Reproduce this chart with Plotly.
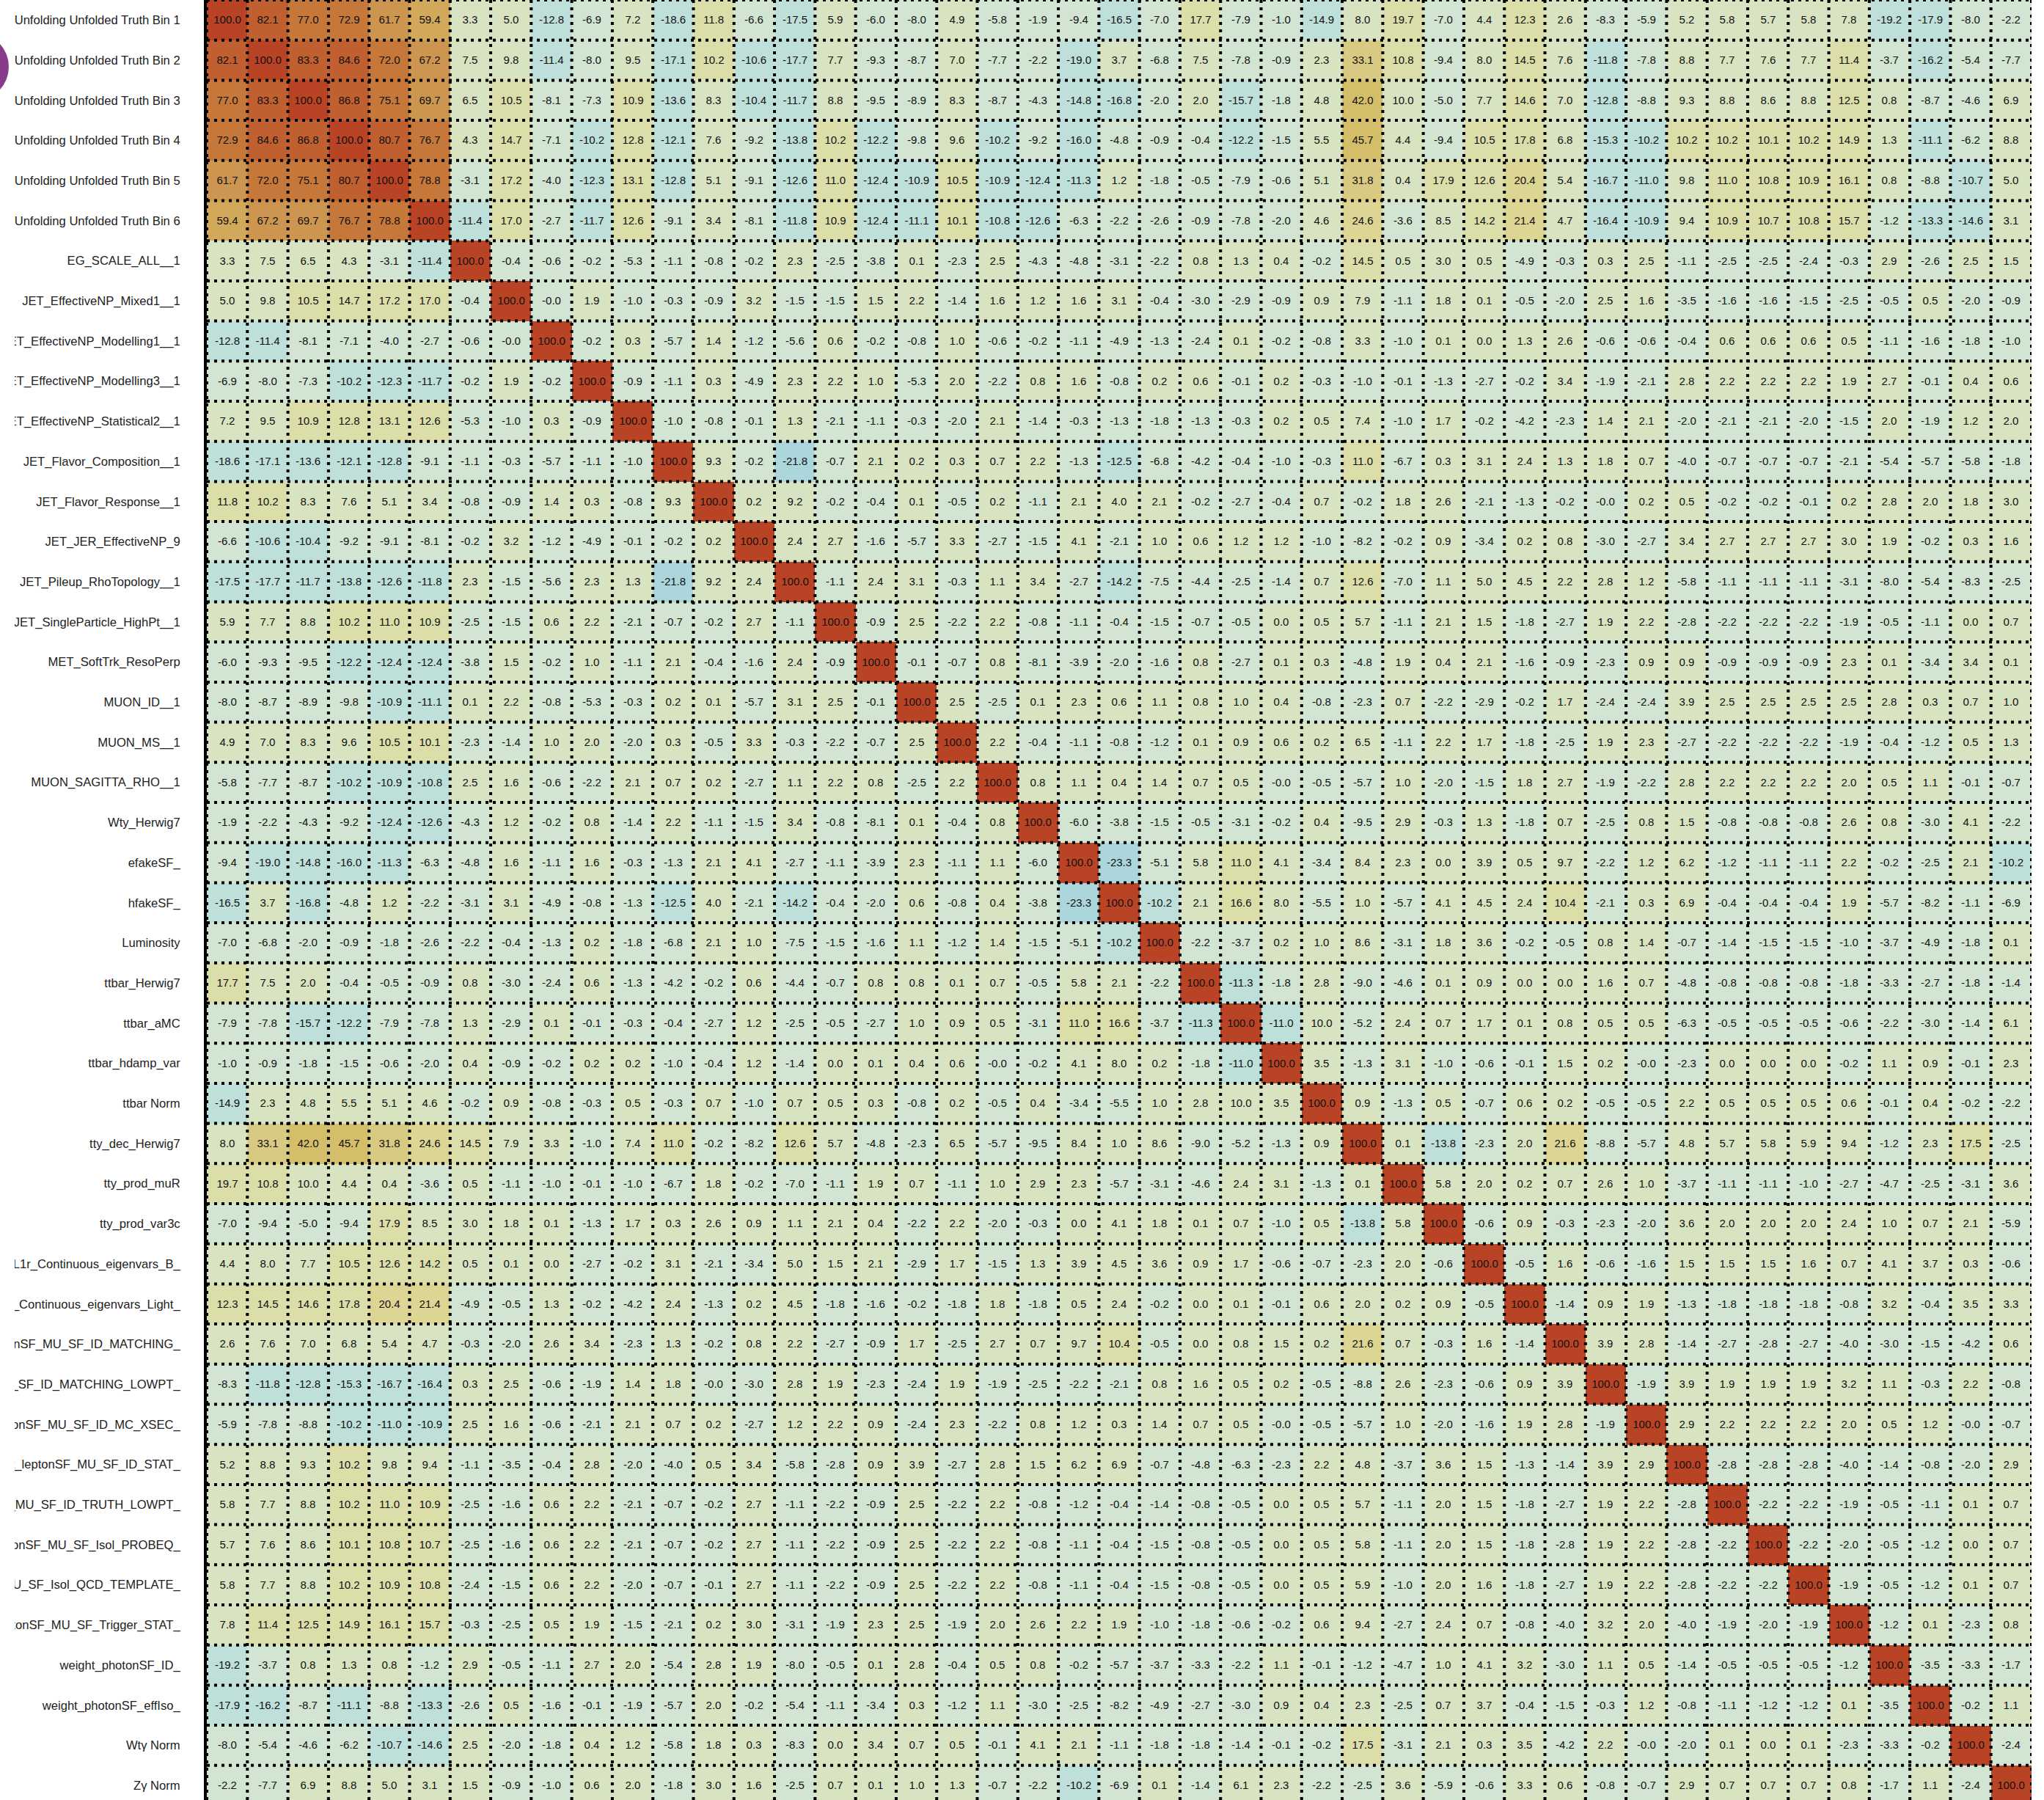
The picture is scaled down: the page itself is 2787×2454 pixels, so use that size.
import math
import plotly.graph_objects as go

labels = [
    "Unfolding Unfolded Truth Bin 1",
    "Unfolding Unfolded Truth Bin 2",
    "Unfolding Unfolded Truth Bin 3",
    "Unfolding Unfolded Truth Bin 4",
    "Unfolding Unfolded Truth Bin 5",
    "Unfolding Unfolded Truth Bin 6",
    "EG_SCALE_ALL__1",
    "JET_EffectiveNP_Mixed1__1",
    "JET_EffectiveNP_Modelling1__1",
    "JET_EffectiveNP_Modelling3__1",
    "JET_EffectiveNP_Statistical2__1",
    "JET_Flavor_Composition__1",
    "JET_Flavor_Response__1",
    "JET_JER_EffectiveNP_9",
    "JET_Pileup_RhoTopology__1",
    "JET_SingleParticle_HighPt__1",
    "MET_SoftTrk_ResoPerp",
    "MUON_ID__1",
    "MUON_MS__1",
    "MUON_SAGITTA_RHO__1",
    "Wty_Herwig7",
    "efakeSF_",
    "hfakeSF_",
    "Luminosity",
    "ttbar_Herwig7",
    "ttbar_aMC",
    "ttbar_hdamp_var",
    "ttbar Norm",
    "tty_dec_Herwig7",
    "tty_prod_muR",
    "tty_prod_var3c",
    "weight_bTagSF_DL1r_Continuous_eigenvars_B_",
    "weight_bTagSF_DL1r_Continuous_eigenvars_Light_",
    "weight_leptonSF_MU_SF_ID_MATCHING_",
    "weight_leptonSF_MU_SF_ID_MATCHING_LOWPT_",
    "weight_leptonSF_MU_SF_ID_MC_XSEC_",
    "weight_leptonSF_MU_SF_ID_STAT_",
    "weight_leptonSF_MU_SF_ID_TRUTH_LOWPT_",
    "weight_leptonSF_MU_SF_Isol_PROBEQ_",
    "weight_leptonSF_MU_SF_Isol_QCD_TEMPLATE_",
    "weight_leptonSF_MU_SF_Trigger_STAT_",
    "weight_photonSF_ID_",
    "weight_photonSF_effIso_",
    "Wtγ Norm",
    "Zγ Norm",
]

# Lower triangle of the (symmetric) correlation matrix, in %, diagonal = 100
r01 = []
r02 = [82.1]
r03 = [77.0, 83.3]
r04 = [72.9, 84.6, 86.8]
r05 = [61.7, 72.0, 75.1, 80.7]
r06 = [59.4, 67.2, 69.7, 76.7, 78.8]
r07 = [3.3, 7.5, 6.5, 4.3, -3.1, -11.4]
r08 = [5.0, 9.8, 10.5, 14.7, 17.2, 17.0, -0.4]
r09 = [-12.8, -11.4, -8.1, -7.1, -4.0, -2.7, -0.6, -0.0]
r10 = [-6.9, -8.0, -7.3, -10.2, -12.3, -11.7, -0.2, 1.9, -0.2]
r11 = [7.2, 9.5, 10.9, 12.8, 13.1, 12.6, -5.3, -1.0, 0.3, -0.9]
r12 = [-18.6, -17.1, -13.6, -12.1, -12.8, -9.1, -1.1, -0.3, -5.7, -1.1, -1.0]
r13 = [11.8, 10.2, 8.3, 7.6, 5.1, 3.4, -0.8, -0.9, 1.4, 0.3, -0.8, 9.3]
r14 = [-6.6, -10.6, -10.4, -9.2, -9.1, -8.1, -0.2, 3.2, -1.2, -4.9, -0.1, -0.2, 0.2]
r15 = [-17.5, -17.7, -11.7, -13.8, -12.6, -11.8, 2.3, -1.5, -5.6, 2.3, 1.3, -21.8, 9.2, 2.4]
r16 = [5.9, 7.7, 8.8, 10.2, 11.0, 10.9, -2.5, -1.5, 0.6, 2.2, -2.1, -0.7, -0.2, 2.7, -1.1]
r17 = [-6.0, -9.3, -9.5, -12.2, -12.4, -12.4, -3.8, 1.5, -0.2, 1.0, -1.1, 2.1, -0.4, -1.6, 2.4,
       -0.9]
r18 = [-8.0, -8.7, -8.9, -9.8, -10.9, -11.1, 0.1, 2.2, -0.8, -5.3, -0.3, 0.2, 0.1, -5.7, 3.1,
       2.5, -0.1]
r19 = [4.9, 7.0, 8.3, 9.6, 10.5, 10.1, -2.3, -1.4, 1.0, 2.0, -2.0, 0.3, -0.5, 3.3, -0.3,
       -2.2, -0.7, 2.5]
r20 = [-5.8, -7.7, -8.7, -10.2, -10.9, -10.8, 2.5, 1.6, -0.6, -2.2, 2.1, 0.7, 0.2, -2.7, 1.1,
       2.2, 0.8, -2.5, 2.2]
r21 = [-1.9, -2.2, -4.3, -9.2, -12.4, -12.6, -4.3, 1.2, -0.2, 0.8, -1.4, 2.2, -1.1, -1.5, 3.4,
       -0.8, -8.1, 0.1, -0.4, 0.8]
r22 = [-9.4, -19.0, -14.8, -16.0, -11.3, -6.3, -4.8, 1.6, -1.1, 1.6, -0.3, -1.3, 2.1, 4.1, -2.7,
       -1.1, -3.9, 2.3, -1.1, 1.1, -6.0]
r23 = [-16.5, 3.7, -16.8, -4.8, 1.2, -2.2, -3.1, 3.1, -4.9, -0.8, -1.3, -12.5, 4.0, -2.1, -14.2,
       -0.4, -2.0, 0.6, -0.8, 0.4, -3.8, -23.3]
r24 = [-7.0, -6.8, -2.0, -0.9, -1.8, -2.6, -2.2, -0.4, -1.3, 0.2, -1.8, -6.8, 2.1, 1.0, -7.5,
       -1.5, -1.6, 1.1, -1.2, 1.4, -1.5, -5.1, -10.2]
r25 = [17.7, 7.5, 2.0, -0.4, -0.5, -0.9, 0.8, -3.0, -2.4, 0.6, -1.3, -4.2, -0.2, 0.6, -4.4,
       -0.7, 0.8, 0.8, 0.1, 0.7, -0.5, 5.8, 2.1, -2.2]
r26 = [-7.9, -7.8, -15.7, -12.2, -7.9, -7.8, 1.3, -2.9, 0.1, -0.1, -0.3, -0.4, -2.7, 1.2, -2.5,
       -0.5, -2.7, 1.0, 0.9, 0.5, -3.1, 11.0, 16.6, -3.7, -11.3]
r27 = [-1.0, -0.9, -1.8, -1.5, -0.6, -2.0, 0.4, -0.9, -0.2, 0.2, 0.2, -1.0, -0.4, 1.2, -1.4,
       0.0, 0.1, 0.4, 0.6, -0.0, -0.2, 4.1, 8.0, 0.2, -1.8, -11.0]
r28 = [-14.9, 2.3, 4.8, 5.5, 5.1, 4.6, -0.2, 0.9, -0.8, -0.3, 0.5, -0.3, 0.7, -1.0, 0.7,
       0.5, 0.3, -0.8, 0.2, -0.5, 0.4, -3.4, -5.5, 1.0, 2.8, 10.0, 3.5]
r29 = [8.0, 33.1, 42.0, 45.7, 31.8, 24.6, 14.5, 7.9, 3.3, -1.0, 7.4, 11.0, -0.2, -8.2, 12.6,
       5.7, -4.8, -2.3, 6.5, -5.7, -9.5, 8.4, 1.0, 8.6, -9.0, -5.2, -1.3, 0.9]
r30 = [19.7, 10.8, 10.0, 4.4, 0.4, -3.6, 0.5, -1.1, -1.0, -0.1, -1.0, -6.7, 1.8, -0.2, -7.0,
       -1.1, 1.9, 0.7, -1.1, 1.0, 2.9, 2.3, -5.7, -3.1, -4.6, 2.4, 3.1, -1.3, 0.1]
r31 = [-7.0, -9.4, -5.0, -9.4, 17.9, 8.5, 3.0, 1.8, 0.1, -1.3, 1.7, 0.3, 2.6, 0.9, 1.1,
       2.1, 0.4, -2.2, 2.2, -2.0, -0.3, 0.0, 4.1, 1.8, 0.1, 0.7, -1.0, 0.5, -13.8, 5.8]
r32 = [4.4, 8.0, 7.7, 10.5, 12.6, 14.2, 0.5, 0.1, 0.0, -2.7, -0.2, 3.1, -2.1, -3.4, 5.0,
       1.5, 2.1, -2.9, 1.7, -1.5, 1.3, 3.9, 4.5, 3.6, 0.9, 1.7, -0.6, -0.7, -2.3, 2.0,
       -0.6]
r33 = [12.3, 14.5, 14.6, 17.8, 20.4, 21.4, -4.9, -0.5, 1.3, -0.2, -4.2, 2.4, -1.3, 0.2, 4.5,
       -1.8, -1.6, -0.2, -1.8, 1.8, -1.8, 0.5, 2.4, -0.2, 0.0, 0.1, -0.1, 0.6, 2.0, 0.2,
       0.9, -0.5]
r34 = [2.6, 7.6, 7.0, 6.8, 5.4, 4.7, -0.3, -2.0, 2.6, 3.4, -2.3, 1.3, -0.2, 0.8, 2.2,
       -2.7, -0.9, 1.7, -2.5, 2.7, 0.7, 9.7, 10.4, -0.5, 0.0, 0.8, 1.5, 0.2, 21.6, 0.7,
       -0.3, 1.6, -1.4]
r35 = [-8.3, -11.8, -12.8, -15.3, -16.7, -16.4, 0.3, 2.5, -0.6, -1.9, 1.4, 1.8, -0.0, -3.0, 2.8,
       1.9, -2.3, -2.4, 1.9, -1.9, -2.5, -2.2, -2.1, 0.8, 1.6, 0.5, 0.2, -0.5, -8.8, 2.6,
       -2.3, -0.6, 0.9, 3.9]
r36 = [-5.9, -7.8, -8.8, -10.2, -11.0, -10.9, 2.5, 1.6, -0.6, -2.1, 2.1, 0.7, 0.2, -2.7, 1.2,
       2.2, 0.9, -2.4, 2.3, -2.2, 0.8, 1.2, 0.3, 1.4, 0.7, 0.5, -0.0, -0.5, -5.7, 1.0,
       -2.0, -1.6, 1.9, 2.8, -1.9]
r37 = [5.2, 8.8, 9.3, 10.2, 9.8, 9.4, -1.1, -3.5, -0.4, 2.8, -2.0, -4.0, 0.5, 3.4, -5.8,
       -2.8, 0.9, 3.9, -2.7, 2.8, 1.5, 6.2, 6.9, -0.7, -4.8, -6.3, -2.3, 2.2, 4.8, -3.7,
       3.6, 1.5, -1.3, -1.4, 3.9, 2.9]
r38 = [5.8, 7.7, 8.8, 10.2, 11.0, 10.9, -2.5, -1.6, 0.6, 2.2, -2.1, -0.7, -0.2, 2.7, -1.1,
       -2.2, -0.9, 2.5, -2.2, 2.2, -0.8, -1.2, -0.4, -1.4, -0.8, -0.5, 0.0, 0.5, 5.7, -1.1,
       2.0, 1.5, -1.8, -2.7, 1.9, 2.2, -2.8]
r39 = [5.7, 7.6, 8.6, 10.1, 10.8, 10.7, -2.5, -1.6, 0.6, 2.2, -2.1, -0.7, -0.2, 2.7, -1.1,
       -2.2, -0.9, 2.5, -2.2, 2.2, -0.8, -1.1, -0.4, -1.5, -0.8, -0.5, 0.0, 0.5, 5.8, -1.1,
       2.0, 1.5, -1.8, -2.8, 1.9, 2.2, -2.8, -2.2]
r40 = [5.8, 7.7, 8.8, 10.2, 10.9, 10.8, -2.4, -1.5, 0.6, 2.2, -2.0, -0.7, -0.1, 2.7, -1.1,
       -2.2, -0.9, 2.5, -2.2, 2.2, -0.8, -1.1, -0.4, -1.5, -0.8, -0.5, 0.0, 0.5, 5.9, -1.0,
       2.0, 1.6, -1.8, -2.7, 1.9, 2.2, -2.8, -2.2, -2.2]
r41 = [7.8, 11.4, 12.5, 14.9, 16.1, 15.7, -0.3, -2.5, 0.5, 1.9, -1.5, -2.1, 0.2, 3.0, -3.1,
       -1.9, 2.3, 2.5, -1.9, 2.0, 2.6, 2.2, 1.9, -1.0, -1.8, -0.6, -0.2, 0.6, 9.4, -2.7,
       2.4, 0.7, -0.8, -4.0, 3.2, 2.0, -4.0, -1.9, -2.0, -1.9]
r42 = [-19.2, -3.7, 0.8, 1.3, 0.8, -1.2, 2.9, -0.5, -1.1, 2.7, 2.0, -5.4, 2.8, 1.9, -8.0,
       -0.5, 0.1, 2.8, -0.4, 0.5, 0.8, -0.2, -5.7, -3.7, -3.3, -2.2, 1.1, -0.1, -1.2, -4.7,
       1.0, 4.1, 3.2, -3.0, 1.1, 0.5, -1.4, -0.5, -0.5, -0.5, -1.2]
r43 = [-17.9, -16.2, -8.7, -11.1, -8.8, -13.3, -2.6, 0.5, -1.6, -0.1, -1.9, -5.7, 2.0, -0.2, -5.4,
       -1.1, -3.4, 0.3, -1.2, 1.1, -3.0, -2.5, -8.2, -4.9, -2.7, -3.0, 0.9, 0.4, 2.3, -2.5,
       0.7, 3.7, -0.4, -1.5, -0.3, 1.2, -0.8, -1.1, -1.2, -1.2, 0.1, -3.5]
r44 = [-8.0, -5.4, -4.6, -6.2, -10.7, -14.6, 2.5, -2.0, -1.8, 0.4, 1.2, -5.8, 1.8, 0.3, -8.3,
       0.0, 3.4, 0.7, 0.5, -0.1, 4.1, 2.1, -1.1, -1.8, -1.8, -1.4, -0.1, -0.2, 17.5, -3.1,
       2.1, 0.3, 3.5, -4.2, 2.2, -0.0, -2.0, 0.1, 0.0, 0.1, -2.3, -3.3, -0.2]
r45 = [-2.2, -7.7, 6.9, 8.8, 5.0, 3.1, 1.5, -0.9, -1.0, 0.6, 2.0, -1.8, 3.0, 1.6, -2.5,
       0.7, 0.1, 1.0, 1.3, -0.7, -2.2, -10.2, -6.9, 0.1, -1.4, 6.1, 2.3, -2.2, -2.5, 3.6,
       -5.9, -0.6, 3.3, 0.6, -0.8, -0.7, 2.9, 0.7, 0.7, 0.7, 0.8, -1.7, 1.1, -2.4]

diag_value = 100.0

lower_rows = [r01, r02, r03, r04, r05, r06, r07, r08, r09, r10, r11, r12, r13, r14, r15,
              r16, r17, r18, r19, r20, r21, r22, r23, r24, r25, r26, r27, r28, r29, r30,
              r31, r32, r33, r34, r35, r36, r37, r38, r39, r40, r41, r42, r43, r44, r45]

# 20 discrete colour bins of width 10 from -100 to 100 (lowest bin first)
bin_colors = ["#306eb8", "#3c80c2", "#4a92cc", "#5aa3d4", "#6cb2da", "#80bfdc",
              "#95cbdd", "#aad6dc", "#bfe0da", "#d2e5d3", "#d8e3c1", "#dcdeaa",
              "#dcd593", "#d9ca83", "#d5be69", "#d2a85a", "#cd9650", "#c6783a",
              "#c06030", "#b94325"]

N = len(labels)
z = [[0.0] * N for _ in range(N)]
for i, row in enumerate(lower_rows):
    z[i][i] = diag_value
    for j, v in enumerate(row):
        z[i][j] = v
        z[j][i] = v

text = [[f"{v:.1f}" for v in r] for r in z]
# negative zeros belong to the negative colour bin
zcol = [[(-1e-6 if (v == 0 and math.copysign(1.0, v) < 0) else v) for v in r] for r in z]

nb = len(bin_colors)
colorscale = []
for k, c in enumerate(bin_colors):
    colorscale.append([k / nb, c])
    colorscale.append([(k + 1) / nb, c])

W, H = 2787, 2454
L, R, T, B = 282, 17, 0, 0
PW, PH = W - L - R, H - T - B
ROW_PX = 54.7  # the matrix runs slightly past the bottom edge of the view

def px_x(p):
    return (p - L) / PW

def px_y(p):
    return 1 - (p - T) / PH

idx = list(range(N))

fig = go.Figure(go.Heatmap(
    z=zcol, x=idx, y=idx,
    text=text, texttemplate="%{text}",
    textfont=dict(family="Liberation Sans, Arial, sans-serif", size=15, color="#111111"),
    colorscale=colorscale, zmin=-100, zmax=100,
    showscale=False, hoverinfo="skip",
))

shapes = []
line_style = dict(color="black", width=4, dash="4px,6px")
for k in range(N + 1):
    shapes.append(dict(type="line", xref="x", yref="y", x0=k - 0.5, x1=k - 0.5,
                       y0=-0.5, y1=N - 0.5, line=line_style, layer="above"))
    shapes.append(dict(type="line", xref="x", yref="y", y0=k - 0.5, y1=k - 0.5,
                       x0=-0.5, x1=N - 0.5, line=line_style, layer="above"))

# white strip clipping the long labels on the far left, plus the purple badge
shapes.append(dict(type="rect", xref="paper", yref="paper",
                   x0=px_x(-50), x1=px_x(20), y0=px_y(H + 10), y1=px_y(-10),
                   fillcolor="white", line=dict(width=0), layer="above"))
shapes.append(dict(type="circle", xref="paper", yref="paper",
                   x0=px_x(-75), x1=px_x(12), y0=px_y(136), y1=px_y(46),
                   fillcolor="#8a3a8c", line=dict(width=0), layer="above"))

fig.update_layout(
    width=W, height=H,
    margin=dict(l=L, r=R, t=T, b=B, pad=0),
    paper_bgcolor="white", plot_bgcolor="white",
    shapes=shapes,
    font=dict(family="Liberation Sans, Arial, sans-serif", color="#222222"),
    xaxis=dict(range=[-0.5, N - 0.5], showticklabels=False, showgrid=False,
               zeroline=False, ticks="", fixedrange=True),
    yaxis=dict(range=[-0.5 + PH / ROW_PX, -0.5], tickmode="array", tickvals=idx,
               ticktext=labels,
               tickfont=dict(size=16.6, color="#222222"), ticks="", ticklabelstandoff=29,
               showgrid=False, zeroline=False, showline=True, linecolor="black",
               linewidth=4, automargin=False),
)

fig.write_html("out.html")
